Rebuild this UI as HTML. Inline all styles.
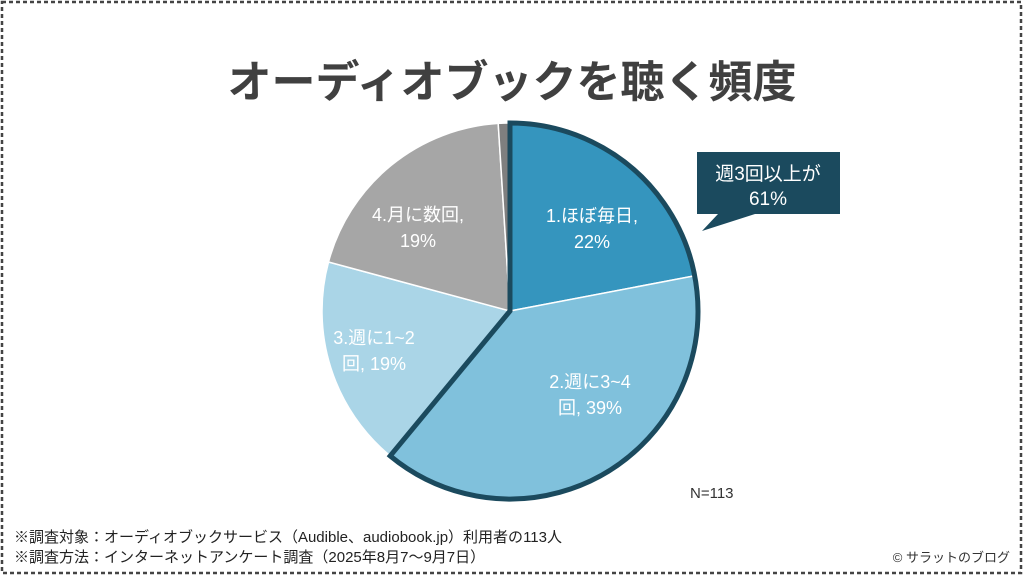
<!DOCTYPE html>
<html><head><meta charset="utf-8"><style>
body{margin:0;width:1024px;height:576px;background:#fff;overflow:hidden;font-family:"Liberation Sans","Noto Sans CJK JP",sans-serif;}
</style></head><body>
<svg width="1024" height="576" viewBox="0 0 1024 576" xmlns="http://www.w3.org/2000/svg" font-family="Liberation Sans, Noto Sans CJK JP, sans-serif">
<rect x="2" y="2" width="1019" height="571" fill="none" stroke="#444" stroke-width="2.5" stroke-dasharray="4 3"/>
<text x="512" y="97" text-anchor="middle" font-size="44" font-weight="bold" fill="#404040">オーディオブックを聴く頻度</text>
<g stroke="#fff" stroke-width="1.5">
<path d="M510,311 L510,123 A188,188 0 0 1 694.7,275.8 Z" fill="#3595be"/>
<path d="M510,311 L694.7,275.8 A188,188 0 0 1 390.2,455.9 Z" fill="#80c1dc"/>
<path d="M510,311 L390.2,455.9 A188,188 0 0 1 328.5,262 Z" fill="#aad5e7"/>
<path d="M510,311 L328.5,262 A188,188 0 0 1 498.2,123.4 Z" fill="#a6a6a6"/>
<path d="M510,311 L498.2,123.4 A188,188 0 0 1 510,123 Z" fill="#7f7f7f"/>
</g>
<path d="M510,311 L510,123 A188,188 0 1 1 390.2,455.9 Z" fill="none" stroke="#1b4a5e" stroke-width="5" stroke-linejoin="miter"/>
<g fill="#fff" font-size="18" text-anchor="middle">
<text x="592" y="222">1.ほぼ毎日,</text><text x="592" y="248">22%</text>
<text x="590" y="388">2.週に3~4</text><text x="590" y="414">回, 39%</text>
<text x="374" y="344">3.週に1~2</text><text x="374" y="370">回, 19%</text>
<text x="418" y="221">4.月に数回,</text><text x="418" y="247">19%</text>
</g>
<path d="M697,152 H840 V214 H755 L702,231 L718,214 H697 Z" fill="#1b4a5e"/>
<text x="768" y="180" text-anchor="middle" font-size="19" fill="#fff">週3回以上が</text>
<text x="768" y="205" text-anchor="middle" font-size="19" fill="#fff">61%</text>
<text x="690" y="498" font-size="15" fill="#333">N=113</text>
<text x="14" y="542" font-size="15" fill="#222">※調査対象：オーディオブックサービス（Audible、audiobook.jp）利用者の113人</text>
<text x="14" y="562" font-size="15" fill="#222">※調査方法：インターネットアンケート調査（2025年8月7～9月7日）</text>
<text x="1010" y="562" text-anchor="end" font-size="13" fill="#333">© サラットのブログ</text>
</svg>
</body></html>
